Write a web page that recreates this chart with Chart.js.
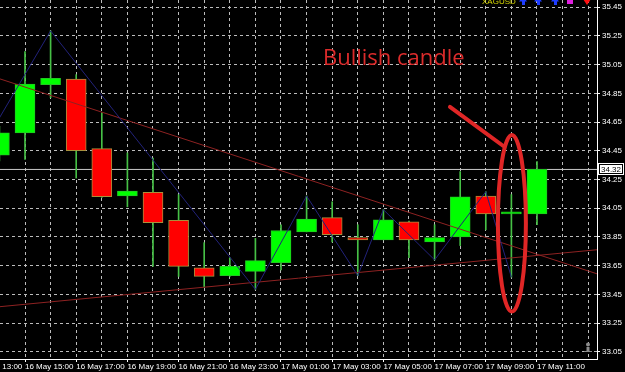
<!DOCTYPE html>
<html>
<head>
<meta charset="utf-8">
<script src="https://cdn.jsdelivr.net/npm/chart.js@4.4.1/dist/chart.umd.min.js"></script>
<style>
  html, body { margin: 0; padding: 0; background: #000; }
  canvas { display: block; }
</style>
</head>
<body>
<canvas id="chart" width="625" height="372"></canvas>
<script>
// XAGUSD H1, bar index 0 = 16 May 13:00
const times = [
    '16 May 13:00', '16 May 14:00', '16 May 15:00', '16 May 16:00', '16 May 17:00',
    '16 May 18:00', '16 May 19:00', '16 May 20:00', '16 May 21:00', '16 May 22:00',
    '16 May 23:00', '17 May 00:00', '17 May 01:00', '17 May 02:00', '17 May 03:00',
    '17 May 04:00', '17 May 05:00', '17 May 06:00', '17 May 07:00', '17 May 08:00',
    '17 May 09:00', '17 May 10:00', '17 May 11:00', '17 May 12:00', '17 May 13:00'
];
const opens  = [null, 34.42, 34.575, 34.91, 34.95, 34.465, 34.135, 34.16, 33.965, 33.635, 33.58, 33.61, 33.67, 33.885, 33.985, 33.845, 33.83, 33.955, 33.815, 33.85, 34.135, 34.01, 34.01, null, null];
const highs  = [null, 34.62, 35.14, 35.285, 34.98, 34.715, 34.435, 34.40, 34.145, 33.81, 33.705, 33.84, 33.935, 34.135, 34.095, 33.935, 34.04, 33.96, 33.935, 34.305, 34.165, 34.145, 34.375, null, null];
const lows   = [null, 34.38, 34.39, 34.82, 34.26, 34.125, 34.06, 33.645, 33.575, 33.50, 33.575, 33.485, 33.62, 33.885, 33.815, 33.58, 33.83, 33.705, 33.69, 33.79, 33.90, 33.57, 33.935, null, null];
const closes = [null, 34.575, 34.915, 34.955, 34.45, 34.13, 34.17, 33.95, 33.645, 33.575, 33.645, 33.685, 33.895, 33.975, 33.865, 33.83, 33.97, 33.83, 33.845, 34.13, 34.01, 34.025, 34.32, null, null];

// zigzag indicator vertices
const zigzag = [34.376, null, null, 35.285, null, null, null, null, null, null, null, 33.485, null, 34.135, null, 33.58, 34.04, null, 33.69, null, 34.165, 33.57, null, null, null];

// two trend lines, given at bar 0 and bar 25
const trendBars = [0, 25];
const trendDown = [35.01, 33.555];
const trendUp = [33.347, 33.772];

const priceTicks = [33.05, 33.25, 33.45, 33.65, 33.85, 34.05, 34.25, 34.45, 34.65, 34.85, 35.05, 35.25, 35.45];
const symbol = 'XAGUSD';
const note = 'Bullish candle';
const markedBar = times.indexOf('17 May 10:00');

const lastIdx = closes.reduce((a, v, i) => v != null ? i : a, 0);
const lastClose = closes[lastIdx];

const bodies = [], wicks = [], bodyFill = [], bodyEdge = [];
times.forEach((t, i) => {
    if (opens[i] == null) return;
    bodies.push({ x: i, y: [opens[i], closes[i]] });
    wicks.push({ x: i, y: [lows[i], highs[i]] });
    const up = closes[i] >= opens[i];
    bodyFill.push(up ? '#00ff00' : '#ff0000');
    bodyEdge.push(up ? '#22c822' : '#a8903c');
});
const pts = (arr) => arr.map((v, i) => ({ x: i, y: v })).filter(p => p.y != null);

const tickFont = { family: 'Liberation Sans, Arial, sans-serif', size: 8 };
const gridColor = '#bcbcbc';

const overlay = {
    id: 'overlay',
    afterDraw(chart) {
        const { ctx } = chart;
        const xs = chart.scales.x, ys = chart.scales.y;
        const red = '#e02626';

        // hand-drawn annotation
        ctx.save();
        ctx.strokeStyle = red;
        ctx.lineWidth = 4;
        ctx.lineCap = 'round';
        const cx = xs.getPixelForValue(markedBar) + 0.5;
        const top = ys.getPixelForValue(34.56), bot = ys.getPixelForValue(33.33);
        ctx.beginPath();
        ctx.ellipse(cx, (top + bot) / 2, 14, (bot - top) / 2, 0, 0, Math.PI * 2);
        ctx.stroke();
        ctx.beginPath();
        ctx.moveTo(xs.getPixelForValue(markedBar - 2.4), ys.getPixelForValue(34.756));
        ctx.lineTo(xs.getPixelForValue(markedBar - 0.33), ys.getPixelForValue(34.485));
        ctx.stroke();
        ctx.fillStyle = '#dc2b2b';
        ctx.font = '22px "Open Sans", sans-serif';
        ctx.textBaseline = 'alphabetic';
        ctx.fillText(note, xs.getPixelForValue(markedBar - 7.36), ys.getPixelForValue(35.05));
        ctx.restore();

        // bid price label on the axis
        const by = Math.round(ys.getPixelForValue(lastClose));
        ctx.save();
        ctx.fillStyle = '#ffffff';
        ctx.fillRect(ys.left + 1, by - 6, 26, 12);
        ctx.strokeStyle = '#000';
        ctx.lineWidth = 1;
        ctx.strokeRect(ys.left + 2.5, by - 4.5, 23, 9);
        ctx.fillStyle = '#000';
        ctx.font = '8px Liberation Sans, Arial, sans-serif';
        ctx.textBaseline = 'middle';
        ctx.fillText(lastClose.toFixed(2), ys.left + 4, by + 0.5);
        ctx.restore();

        // symbol + indicator arrows, clipped by top edge
        ctx.save();
        ctx.fillStyle = '#d8d800';
        ctx.font = '8px Liberation Sans, Arial, sans-serif';
        ctx.textBaseline = 'alphabetic';
        ctx.fillText(symbol, 482, 3.5);
        [[523, '#1e3cff'], [538, '#1e3cff'], [555, '#1e3cff']].forEach(([ax, col]) => {
            ctx.fillStyle = col;
            ctx.beginPath();
            ctx.moveTo(ax - 4, 1.5); ctx.lineTo(ax + 4, 1.5); ctx.lineTo(ax, -4);
            ctx.fill();
            ctx.fillRect(ax - 1, 0, 3, 5);
        });
        ctx.fillStyle = '#e020e0';
        ctx.fillRect(567, -1, 6, 5);
        ctx.fillStyle = '#ff1010';
        ctx.beginPath();
        ctx.moveTo(583, -1); ctx.lineTo(591, -1); ctx.lineTo(587, 5);
        ctx.fill();
        // chart shift marker
        ctx.fillStyle = '#8c8c8c';
        ctx.beginPath(); ctx.arc(588, 344.5, 2, 0, Math.PI * 2); ctx.fill();
        ctx.fillRect(586.5, 347, 3, 4);
        ctx.fillRect(584, 351, 8, 1);
        ctx.restore();
    }
};

const ctx = document.getElementById('chart').getContext('2d');
new Chart(ctx, {
    type: 'bar',
    data: {
        datasets: [
            { type: 'line', data: [{ x: 0, y: lastClose }, { x: 25, y: lastClose }], borderColor: '#c8c8c8', borderWidth: 1, pointRadius: 0, order: 4 },
            { data: wicks, backgroundColor: '#46c046', borderWidth: 0, barThickness: 1, grouped: false, order: 3 },
            { data: bodies, backgroundColor: bodyFill, borderColor: bodyEdge, borderWidth: 1, borderSkipped: false, barThickness: 20, grouped: false, order: 2 },
            { type: 'line', data: trendBars.map((b, k) => ({ x: b, y: trendDown[k] })), borderColor: '#8e2222', borderWidth: 1, pointRadius: 0, order: 1 },
            { type: 'line', data: trendBars.map((b, k) => ({ x: b, y: trendUp[k] })), borderColor: '#8e2222', borderWidth: 1, pointRadius: 0, order: 1 },
            { type: 'line', data: pts(zigzag), borderColor: '#22227a', borderWidth: 1, pointRadius: 0, tension: 0, order: 0 }
        ]
    },
    options: {
        responsive: false,
        animation: false,
        devicePixelRatio: 1,
        layout: { padding: 0 },
        plugins: { legend: { display: false }, tooltip: { enabled: false } },
        scales: {
            x: {
                type: 'linear',
                min: 1.0234,
                max: 24.344,
                offset: false,
                grid: {
                    offset: false,
                    color: gridColor,
                    tickLength: 3,
                    tickColor: (c) => (c.tick && c.tick.value % 2 === 0 && c.tick.value <= 22) ? '#ffffff' : 'rgba(0,0,0,0)'
                },
                border: { display: true, color: '#ffffff', width: 1, dash: [3, 3] },
                afterBuildTicks: (scale) => {
                    scale.ticks = times.map((t, i) => ({ value: i })).filter(t => t.value !== 1);
                },
                afterFit: (scale) => {
                    scale.height = 13;
                    scale.paddingLeft = 0;
                    scale.paddingRight = 0;
                },
                ticks: {
                    autoSkip: false,
                    maxRotation: 0,
                    minRotation: 0,
                    align: 'start',
                    padding: 0,
                    color: '#ffffff',
                    font: tickFont,
                    callback: (v) => (v % 2 === 0 && v <= 22) ? times[v] : ''
                }
            },
            y: {
                position: 'right',
                min: 33.0,
                max: 35.5,
                grid: { color: gridColor, tickLength: 3, tickColor: '#ffffff' },
                border: { display: true, color: '#ffffff', width: 1, dash: [3, 3] },
                afterBuildTicks: (scale) => {
                    scale.ticks = priceTicks.map(v => ({ value: v }));
                },
                afterFit: (scale) => {
                    scale.width = 28;
                    scale.paddingTop = 0;
                    scale.paddingBottom = 0;
                },
                ticks: {
                    padding: 2,
                    color: '#ffffff',
                    font: tickFont,
                    callback: (v) => Number(v).toFixed(2)
                }
            }
        }
    },
    plugins: [overlay]
});
</script>
</body>
</html>
